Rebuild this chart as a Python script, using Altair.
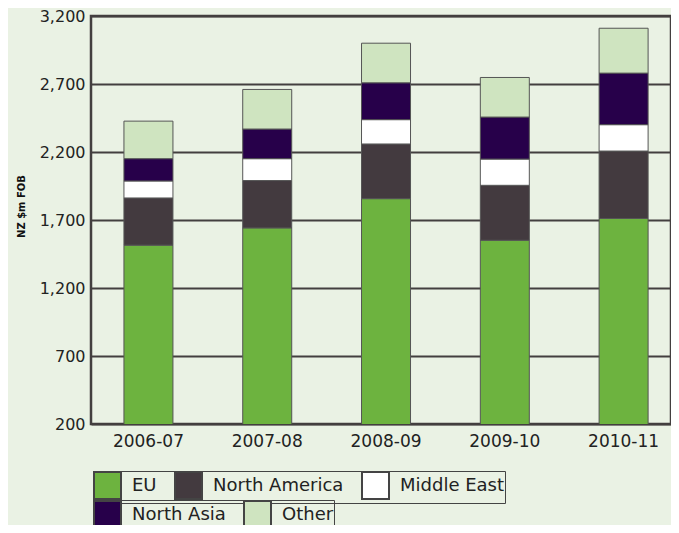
import altair as alt
import pandas as pd

years = ["2006-07", "2007-08", "2008-09", "2009-10", "2010-11"]
regions = ["EU", "North America", "Middle East", "North Asia", "Other"]
eu = [1515, 1642, 1857, 1551, 1711]
north_america = [347, 348, 402, 404, 496]
middle_east = [125, 161, 179, 193, 194]
north_asia = [164, 218, 271, 309, 379]
other = [276, 291, 291, 291, 330]
colors = ["#6db33f", "#433a3f", "#ffffff", "#27004a", "#cfe4c0"]
y_ticks = [200, 700, 1200, 1700, 2200, 2700, 3200]

series = [eu, north_america, middle_east, north_asia, other]
rows = []
for ri, (name, vals) in enumerate(zip(regions, series)):
    for y, v in zip(years, vals):
        rows.append({"year": y, "region": name, "value": v, "order": ri})
df = pd.DataFrame(rows)

FONT = "DejaVu Sans"
GRID = "#433f3f"
BG = "#eaf2e4"

legend_common = dict(
    title=None, orient="none", direction="horizontal",
    symbolType="square", symbolSize=729,
    symbolStrokeColor="#444444", symbolStrokeWidth=2, symbolOpacity=1,
    labelFontSize=18, labelFont=FONT, labelColor="#222222",
    labelOffset=10, columnPadding=14, rowPadding=0, labelLimit=300,
    strokeColor="#444444", padding=0,
)

x_enc = alt.X("year:N", sort=years,
              scale=alt.Scale(paddingInner=0.5875, paddingOuter=0.235, align=0.59),
              axis=alt.Axis(title=None, labelAngle=0, labelFontSize=17, labelPadding=9,
                            ticks=False, domain=False, grid=False,
                            labelColor="#222222", labelFont=FONT))
y_enc = alt.Y("y1:Q",
              scale=alt.Scale(domain=[200, 3200], nice=False, zero=False),
              axis=alt.Axis(values=y_ticks, format=",d", title="NZ $m FOB",
                            titleFontSize=10, titleFontWeight="bold", titleFont=FONT,
                            titleAngle=270, titleX=-70, titleY=190,
                            titleAlign="center", titleBaseline="middle",
                            titleColor="#111111",
                            labelFontSize=16, labelPadding=6, labelFont=FONT,
                            labelColor="#222222",
                            ticks=False, domain=False, grid=True,
                            gridColor=GRID, gridWidth=2, gridOpacity=1))

base = alt.Chart(df).transform_stack(
    stack="value", groupby=["year"], sort=[alt.SortField("order", order="ascending")],
    as_=["y0", "y1"]
)

lower = base.transform_filter(alt.datum.order < 3).mark_bar(
    clip=True, stroke="#555555", strokeWidth=1
).encode(
    x=x_enc, y=y_enc, y2="y0:Q",
    color=alt.Color("region:N", sort=regions[:3],
                    scale=alt.Scale(domain=regions[:3], range=colors[:3]),
                    legend=alt.Legend(legendX=2, legendY=455, **legend_common)),
)

upper = base.transform_filter(alt.datum.order >= 3).mark_bar(
    clip=True, stroke="#555555", strokeWidth=1
).encode(
    x=x_enc, y=y_enc, y2="y0:Q",
    fill=alt.Fill("region:N", sort=regions[3:],
                  scale=alt.Scale(domain=regions[3:], range=colors[3:]),
                  legend=alt.Legend(legendX=2, legendY=484, **legend_common)),
)

chart = alt.layer(lower, upper).resolve_scale(color="independent", fill="independent").properties(
    width=580, height=408,
    autosize=alt.AutoSizeParams(type="none"),
    padding={"left": 83, "top": 8, "right": 0, "bottom": 101},
).configure(background=BG).configure_view(
    stroke=GRID, strokeWidth=2.5, fill=BG
)

chart.save("out.html", embed_options={"renderer": "svg", "actions": False})
